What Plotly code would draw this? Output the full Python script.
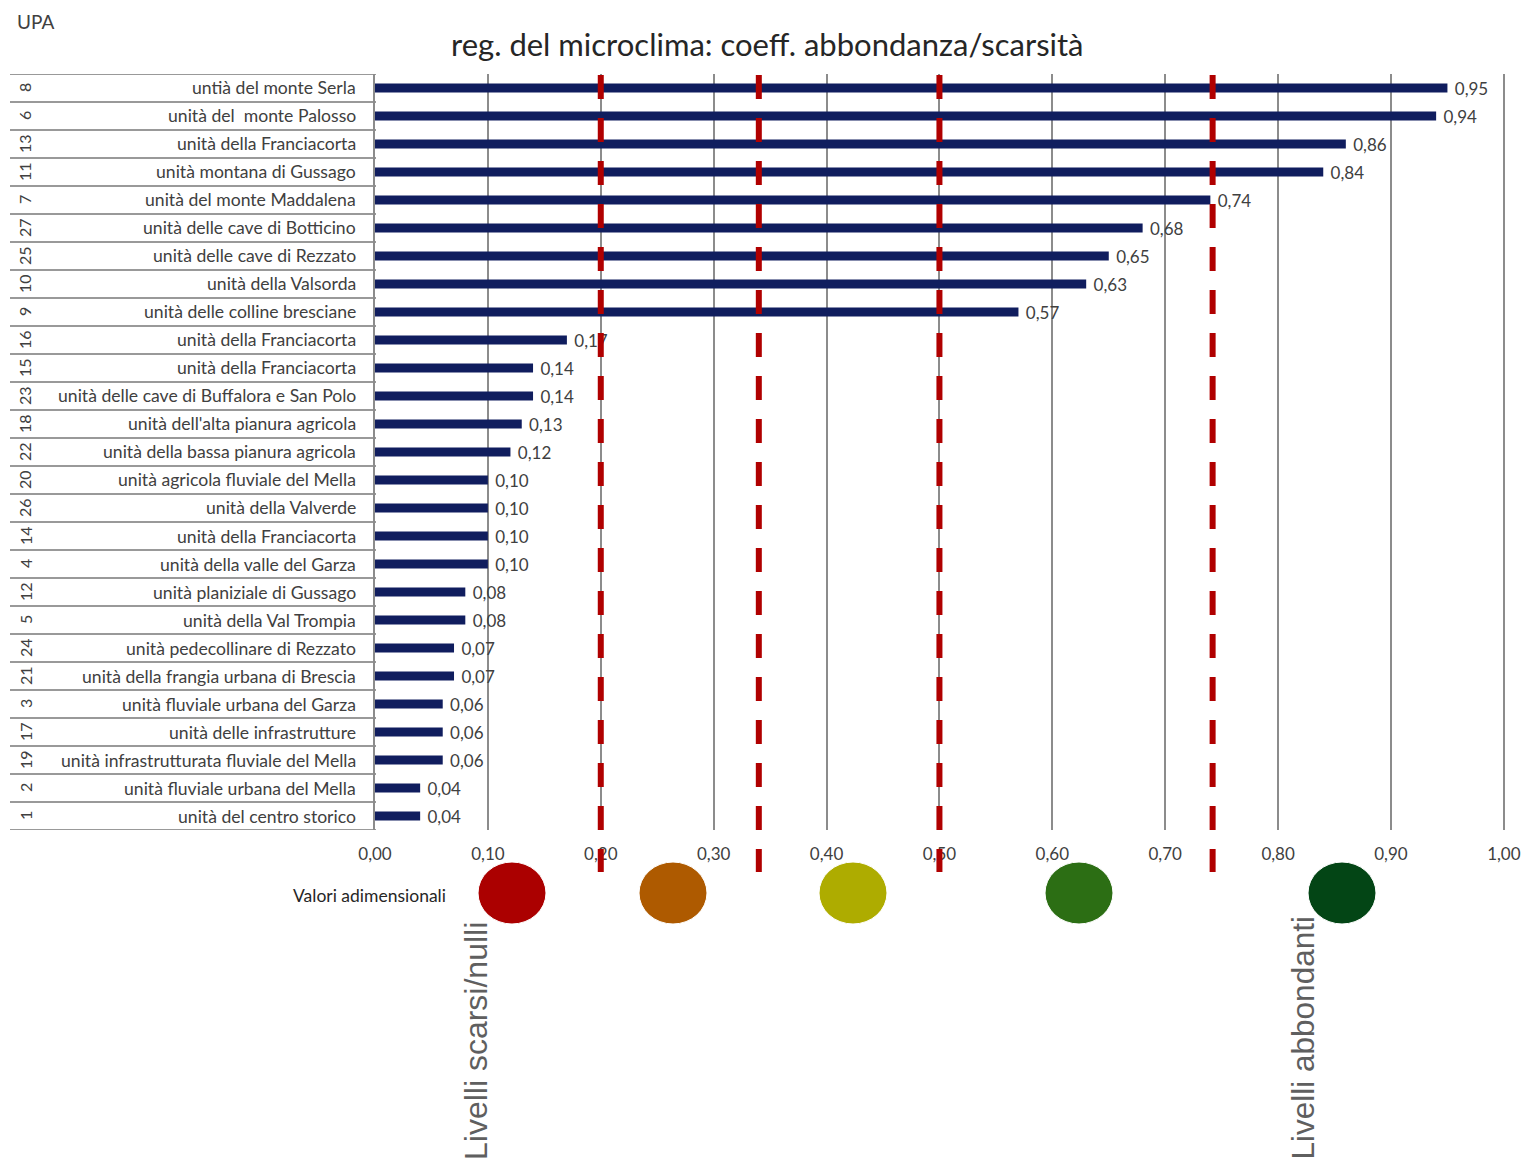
import plotly.graph_objects as go

# UPA codes, names and coefficient values (top to bottom)
upa_codes = ["8", "6", "13", "11", "7", "27", "25", "10", "9", "16", "15", "23", "18", "22",
             "20", "26", "14", "4", "12", "5", "24", "21", "3", "17", "19", "2", "1"]
upa_names = [
    "untià del monte Serla",
    "unità del  monte Palosso",
    "unità della Franciacorta",
    "unità montana di Gussago",
    "unità del monte Maddalena",
    "unità delle cave di Botticino",
    "unità delle cave di Rezzato",
    "unità della Valsorda",
    "unità delle colline bresciane",
    "unità della Franciacorta",
    "unità della Franciacorta",
    "unità delle cave di Buffalora e San Polo",
    "unità dell'alta pianura agricola",
    "unità della bassa pianura agricola",
    "unità agricola fluviale del Mella",
    "unità della Valverde",
    "unità della Franciacorta",
    "unità della valle del Garza",
    "unità planiziale di Gussago",
    "unità della Val Trompia",
    "unità pedecollinare di Rezzato",
    "unità della frangia urbana di Brescia",
    "unità fluviale urbana del Garza",
    "unità delle infrastrutture",
    "unità infrastrutturata fluviale del Mella",
    "unità fluviale urbana del Mella",
    "unità del centro storico",
]
coeff_values = [0.95, 0.94, 0.86, 0.84, 0.74, 0.68, 0.65, 0.63, 0.57, 0.17, 0.14, 0.14, 0.13, 0.12,
                0.10, 0.10, 0.10, 0.10, 0.08, 0.08, 0.07, 0.07, 0.06, 0.06, 0.06, 0.04, 0.04]

# class thresholds (red dashed lines)
thresholds = [0.2, 0.34, 0.5, 0.742]

# class colour scale, from scarce to abundant
class_colors = ["#ab0000", "#ae5a00", "#aeac00", "#2c6e14", "#034515"]
class_centers_px = [512, 673, 853, 1079, 1342]

W, H = 1524, 1160
FONT = "Lato"
TXT = "#404040"


def px(x):
    return x / W


def py(y):
    return 1 - y / H


n = len(upa_codes)
rows = list(range(n))

fig = go.Figure()
fig.add_trace(go.Bar(
    x=coeff_values,
    y=rows,
    orientation="h",
    width=0.32,
    marker=dict(color="#101d5e", line=dict(width=0)),
    texttemplate="\u00a0%{x:.2f}",
    textposition="outside",
    constraintext="none",
    cliponaxis=False,
    textfont=dict(family=FONT, size=17, color=TXT),
    hoverinfo="skip",
))

shapes = []
annotations = []

# left table: row separators, codes and names
for i in range(n + 1):
    shapes.append(dict(type="line", xref="paper", yref="y",
                       x0=px(10), x1=px(376), y0=i - 0.5, y1=i - 0.5,
                       line=dict(color="#999999", width=2), layer="below"))
for i, (code, name) in enumerate(zip(upa_codes, upa_names)):
    annotations.append(dict(xref="paper", yref="y", x=px(358), y=i, text=name,
                            xanchor="right", yanchor="middle", showarrow=False,
                            font=dict(family=FONT, size=17.6, color=TXT)))
    annotations.append(dict(xref="paper", yref="y", x=px(25), y=i, text=code,
                            textangle=-90, xanchor="center", yanchor="middle",
                            showarrow=False,
                            font=dict(family=FONT, size=16, color=TXT)))

# threshold lines
for t in thresholds:
    shapes.append(dict(type="line", xref="x", yref="paper",
                       x0=t, x1=t, y0=py(75), y1=py(872),
                       line=dict(color="#b00000", width=6, dash="24px,19px"),
                       layer="above"))

# colour classes
for cx, col in zip(class_centers_px, class_colors):
    shapes.append(dict(type="circle", xref="paper", yref="paper",
                       x0=px(cx - 34), x1=px(cx + 34), y0=py(924), y1=py(862),
                       fillcolor=col, line=dict(color="white", width=1)))

annotations += [
    dict(xref="paper", yref="paper", x=px(15), y=py(22), text="UPA",
         xanchor="left", yanchor="middle", showarrow=False,
         font=dict(family=FONT, size=19, color=TXT)),
    dict(xref="paper", yref="paper", x=px(767), y=py(44),
         text="reg. del microclima: coeff. abbondanza/scarsità",
         xanchor="center", yanchor="middle", showarrow=False,
         font=dict(family=FONT, size=31, color="#262626")),
    dict(xref="paper", yref="paper", x=px(448), y=py(895), text="Valori adimensionali",
         xanchor="right", yanchor="middle", showarrow=False,
         font=dict(family=FONT, size=17.5, color="#262626")),
    dict(xref="paper", yref="paper", x=px(476), y=py(1162), text="Livelli scarsi/nulli",
         textangle=-90, xanchor="center", yanchor="bottom", showarrow=False,
         font=dict(family="Liberation Sans", size=32, color="#5f5f5f")),
    dict(xref="paper", yref="paper", x=px(1302), y=py(1162), text="Livelli abbondanti",
         textangle=-90, xanchor="center", yanchor="bottom", showarrow=False,
         font=dict(family="Liberation Sans", size=31.5, color="#5f5f5f")),
]

fig.update_layout(
    width=W, height=H,
    margin=dict(l=0, r=0, t=0, b=0, autoexpand=False),
    paper_bgcolor="white", plot_bgcolor="white",
    separators=",.",
    showlegend=False,
    xaxis=dict(domain=[px(375), px(1505)], range=[0, 1.001], dtick=0.1, tick0=0,
               tickformat=".2f", showgrid=True, gridcolor="#8c8c8c", gridwidth=1.5,
               zeroline=False, showline=False, ticks="", automargin=False,
               ticklabelstandoff=12,
               tickfont=dict(family=FONT, size=17, color=TXT), fixedrange=True),
    yaxis=dict(domain=[py(830), py(74)], range=[n - 0.5, -0.5],
               showticklabels=False, showgrid=False, zeroline=False,
               showline=True, linecolor="#8c8c8c", linewidth=2, ticks="",
               automargin=False, fixedrange=True),
    shapes=shapes,
    annotations=annotations,
)

fig.write_html("out.html")
